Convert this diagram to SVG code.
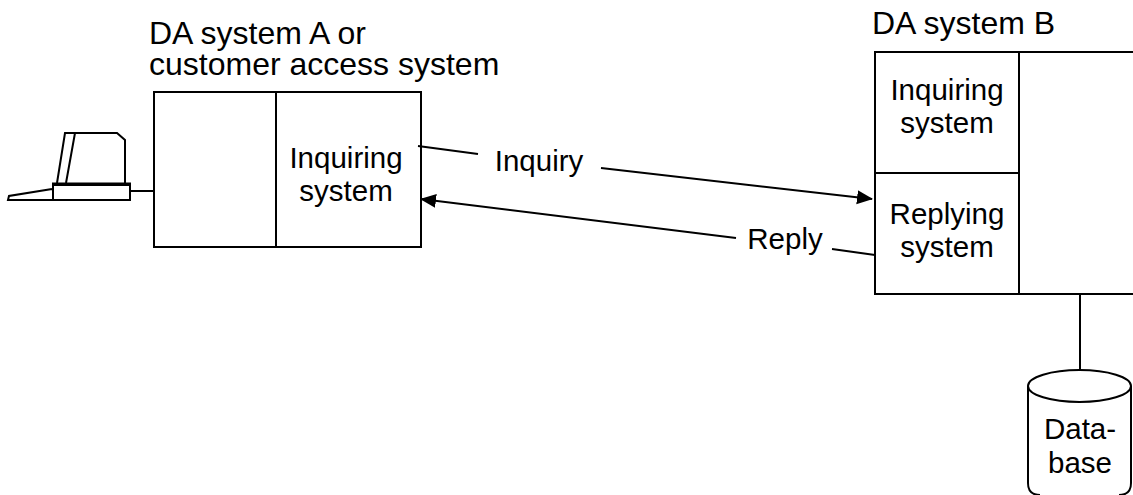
<svg xmlns="http://www.w3.org/2000/svg" width="1133" height="495" viewBox="0 0 1133 495">
<style>
text{font-family:"Liberation Sans",Arial,sans-serif;font-size:29.5px;fill:#000;text-anchor:middle}
.l{text-anchor:start;font-size:32px}
.s{fill:none;stroke:#000;stroke-width:2}
</style>
<defs><marker id="a" markerUnits="userSpaceOnUse" markerWidth="16" markerHeight="16" refX="15" refY="8" orient="auto"><path d="M0 1L16 8L0 15Z" fill="#000"/></marker></defs>
<rect width="1133" height="495" fill="#fff"/>
<g id="terminal">
<path class="s" d="M57 183L65 133H117L125 140V183M66 183L75 133"/>
<path d="M52 184H131" stroke="#000" stroke-width="3"/>
<path class="s" d="M53 185V200H130V185H53M52 189L9 196L8 200H53"/>
</g>
<g id="system-a">
<text class="l" x="149" y="44">DA system A or</text>
<text class="l" x="149" y="75">customer access system</text>
<rect class="s" x="154" y="92" width="267" height="155"/>
<path class="s" d="M276 92V247"/>
<text x="346" y="168">Inquiring</text>
<text x="346" y="201">system</text>
</g>
<g id="system-b">
<text class="l" x="872" y="34">DA system B</text>
<path class="s" d="M1133 52H875V294H1133M875 173H1019M1019 52V294"/>
<text x="947" y="100">Inquiring</text>
<text x="947" y="133">system</text>
<text x="947" y="224">Replying</text>
<text x="947" y="257">system</text>
</g>
<g id="database">
<path class="s" d="M1028 386V483Q1028 495 1040 495M1131 386V483Q1131 495 1119 495"/>
<ellipse class="s" cx="1079.500" cy="386" rx="51.500" ry="16"/>
<text x="1080" y="439">Data-</text>
<text x="1080" y="473">base</text>
</g>
<g id="connectors">
<path class="s" d="M131 191H154M1080 294V370"/>
<path class="s" d="M418 146L478 154M601 168L872 199" marker-end="url(#a)"/>
<path class="s" d="M736 238L421 199" marker-end="url(#a)"/>
<path class="s" d="M832 249L875 255"/>
<text x="539" y="171">Inquiry</text>
<text x="785" y="249">Reply</text>
</g>
</svg>
